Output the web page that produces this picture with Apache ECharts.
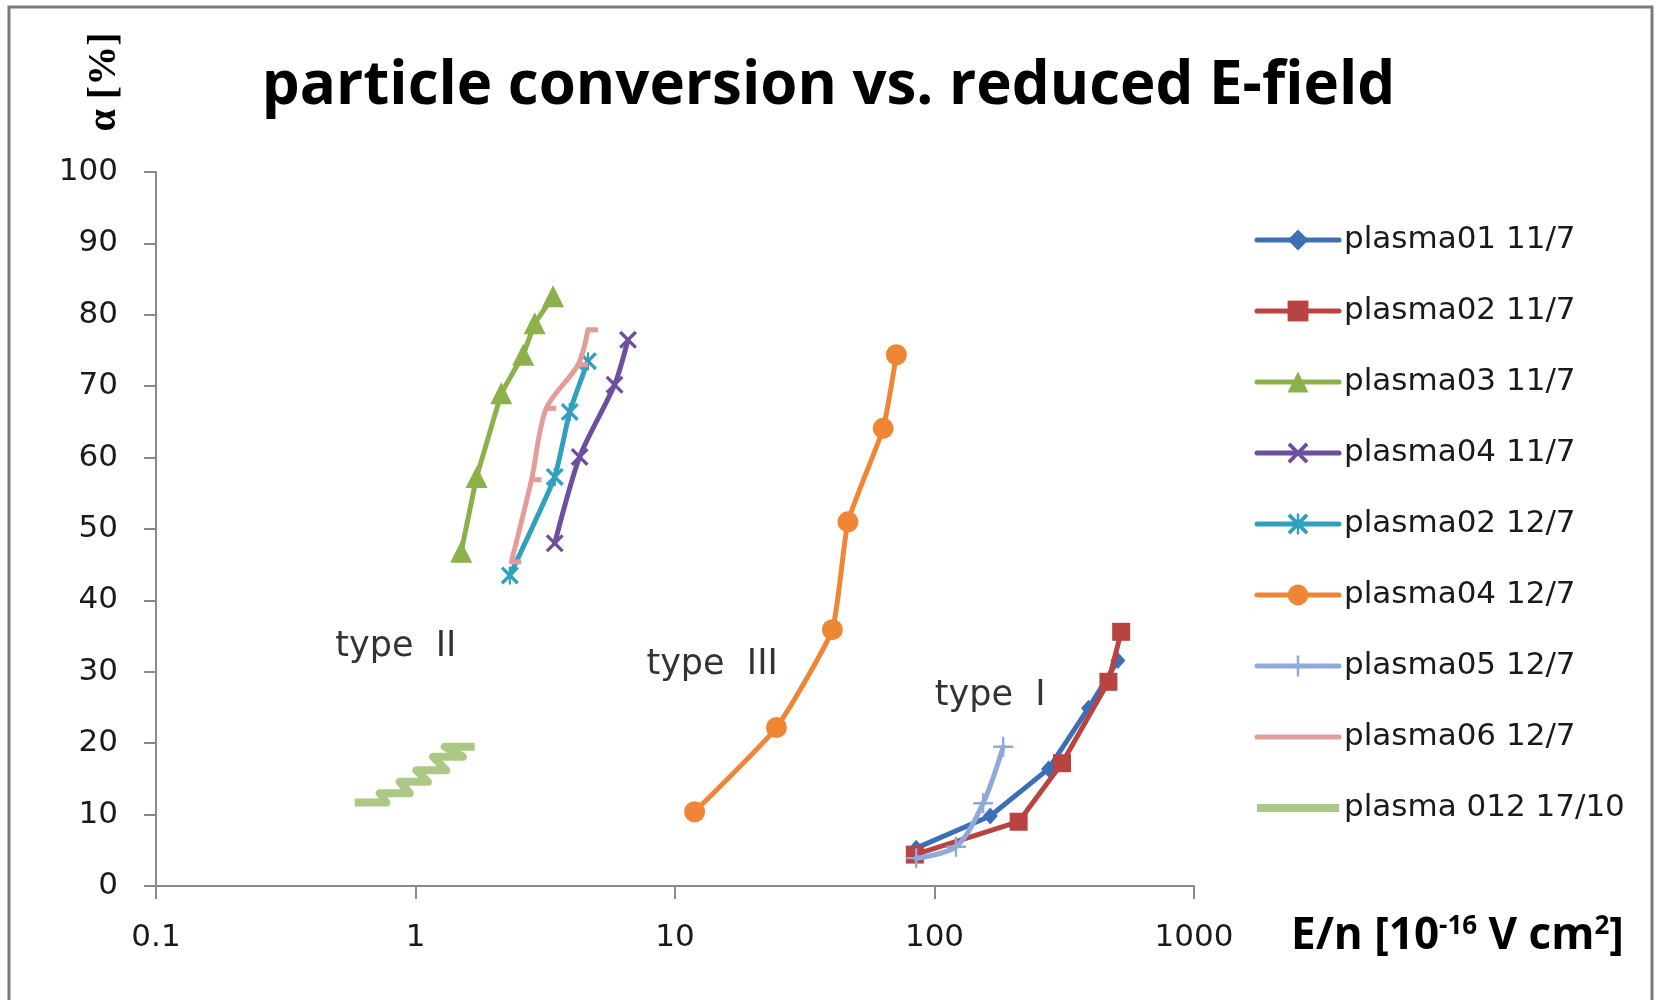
<!DOCTYPE html>
<html>
<head>
<meta charset="utf-8">
<script src="https://cdn.jsdelivr.net/npm/echarts@6/dist/echarts.min.js"></script>
<style>
html,body{margin:0;padding:0;background:#fff;}
#chart{width:1657px;height:1000px;}
</style>
</head>
<body>
<div id="chart"></div>
<script>
// ---- data (x = E/n [1e-16 V cm2], y = alpha [%]) ----
const seriesNames = ['plasma01 11/7','plasma02 11/7','plasma03 11/7','plasma04 11/7','plasma02 12/7','plasma04 12/7','plasma05 12/7','plasma06 12/7','plasma 012 17/10'];
const plasma01_11 = [[85,5.3],[164,9.8],[275,16.4],[392,24.9],[509,31.6]];
const plasma02_11 = [[84,4.4],[211,9.0],[310,17.2],[468,28.6],[524,35.6]];
const plasma03_11 = [[1.50,46.8],[1.72,57.3],[2.14,69.0],[2.60,74.4],[2.88,78.8],[3.39,82.6]];
const plasma04_11 = [[3.44,48.0],[4.29,60.1],[5.85,70.2],[6.59,76.5]];
const plasma02_12 = [[2.31,43.5],[3.44,57.3],[3.93,66.4],[4.62,73.5]];
const plasma04_12 = [[11.9,10.4],[24.6,22.2],[40.4,35.9],[46.4,51.0],[63.4,64.1],[71.3,74.4]];
const plasma05_12 = [[85,3.9],[121,5.5],[154,11.6],[184,19.5]];
const plasma06_12 = [[2.34,45.4],[2.80,56.9],[3.19,66.9],[4.23,73.0],[4.62,77.9]];
const plasma012_1710 = [[0.583,11.7],[0.772,11.7],[0.728,13.0],[0.950,13.0],[0.869,14.6],[1.117,14.6],[1.008,16.2],[1.315,16.2],[1.168,18.1],[1.524,18.1],[1.296,19.5],[1.691,19.5]];
const xTickLabels = ['0.1','1','10','100','1000'];
const yTicks = [0,10,20,30,40,50,60,70,80,90,100];
const annotations = [['type  II',0.84,33.5],['type  III',13.9,31.0],['type  I',164,26.6]];

const colors = ['#3D6FB6','#B94340','#8CB04A','#6E4F9E','#31A0BE','#EE8635','#8EAADB','#E39C98','#ABC985'];
const X_PATH = 'path://M0,1.3L1.3,0L10,8.7L8.7,10Z M8.7,0L10,1.3L1.3,10L0,8.7Z';
const STAR_PATH = 'path://M0,1.3L1.3,0L10,8.7L8.7,10Z M8.7,0L10,1.3L1.3,10L0,8.7Z M4.4,0L5.6,0L5.6,10L4.4,10Z';
const PLUS_PATH = 'path://M4.4,0L5.6,0L5.6,10L4.4,10Z M0,4.4L10,4.4L10,5.6L0,5.6Z';

const dataList = [plasma01_11,plasma02_11,plasma03_11,plasma04_11,plasma02_12,plasma04_12,plasma05_12,plasma06_12,plasma012_1710];
const symbols = ['diamond','rect','triangle',X_PATH,STAR_PATH,'circle',PLUS_PATH,'rect','none'];
const symSizes = [[15,17],18,22,18,18,21,20,[10,5],0];
const smooths = [false,false,false,0.25,0.15,0.15,0.3,0.3,false];
const widths = [5,5,5,5,5,5,5,5,8];

const chart = echarts.init(document.getElementById('chart'), null, {renderer:'canvas'});

const series = seriesNames.map((n,i)=>({
  name:n,
  type:'line',
  data:dataList[i],
  symbol:symbols[i],
  symbolSize:symSizes[i],
  symbolOffset: i===7 ? [5,0] : [0,0],
  showSymbol: symbols[i] !== 'none',
  smooth:smooths[i],
  lineStyle:{width:widths[i], color:colors[i], cap: i===8 ? 'butt':'round', join:'round'},
  itemStyle:{color:colors[i]},
  z: 2+i,
  animation:false
}));

// annotation labels placed at data coordinates
series.push({
  type:'scatter',
  name:'annotations',
  data:annotations.map(a=>({value:[a[1],a[2]], label:{formatter:a[0]}})),
  symbolSize:0,
  label:{show:true, position:'inside', color:'#000', fontSize:35, fontFamily:'DejaVu Sans'},
  silent:true,
  animation:false,
  z:20
});

const option = {
  backgroundColor:'#fff',
  animation:false,
  title:{
    text:'particle conversion vs. reduced E-field',
    left:'center',
    top:52,
    textStyle:{fontSize:60, fontWeight:'bold', color:'#000', fontFamily:"'Open Sans', sans-serif"}
  },
  legend:{
    data:seriesNames.map((n,i)=> (i===7 || i===8) ? {name:n, itemStyle:{opacity:0}} : {name:n}),
    orient:'vertical',
    left:1248,
    top:216,
    itemWidth:82,
    itemHeight:26,
    itemGap:33,
    lineStyle:{width:'inherit'},
    textStyle:{fontSize:31, lineHeight:38, color:'#1a1a1a', fontFamily:'DejaVu Sans'},
    selectedMode:false
  },
  grid:{left:156, right:463, top:172, bottom:114, containLabel:false},
  xAxis:{
    type:'log',
    logBase:10,
    min:0.1,
    max:1000,
    name:'{a|E/n [10}{s|-16}{a| V cm}{s|2}{a|]}',
    nameLocation:'end',
    nameGap:97,
    nameTextStyle:{
      padding:[100,0,0,0],
      rich:{
        a:{fontSize:44, fontWeight:'bold', color:'#000', fontFamily:"'Open Sans', sans-serif"},
        s:{fontSize:26, fontWeight:'bold', color:'#000', verticalAlign:'top', padding:[0,0,16,0], fontFamily:"'Open Sans', sans-serif"}
      }
    },
    axisLine:{show:true, lineStyle:{color:'#8a8a8a', width:2}},
    axisTick:{show:true, inside:false, length:13, lineStyle:{color:'#8a8a8a', width:2}},
    minorTick:{show:false},
    splitLine:{show:false},
    axisLabel:{
      margin:36, fontSize:31, color:'#1a1a1a', fontFamily:'DejaVu Sans',
      formatter:v=>{const k=Math.round(Math.log10(v))+1; return xTickLabels[k]!==undefined?xTickLabels[k]:'';}
    }
  },
  yAxis:{
    type:'value',
    min:0,
    max:100,
    interval:10,
    axisLine:{show:true, lineStyle:{color:'#8a8a8a', width:2}},
    axisTick:{show:true, inside:false, length:12, lineStyle:{color:'#8a8a8a', width:2}},
    splitLine:{show:false},
    axisLabel:{margin:38, fontSize:31, color:'#1a1a1a', fontFamily:'DejaVu Sans',
      formatter:v=> yTicks.indexOf(v)>=0 ? String(v) : ''}
  },
  graphic:[
    {type:'rect', shape:{x:9, y:7, width:1643, height:1010}, style:{fill:'none', stroke:'#7a7a7a', lineWidth:3}, silent:true, z:100},
    {type:'text', x:105, y:82, rotation:Math.PI/2,
     style:{text:'α [%]', x:0, y:0, align:'center', verticalAlign:'middle', fontSize:40, fontWeight:'bold', fill:'#000', fontFamily:"'Liberation Serif', serif"}, silent:true}
  ],
  series:series
};
chart.setOption(option);
</script>
</body>
</html>
